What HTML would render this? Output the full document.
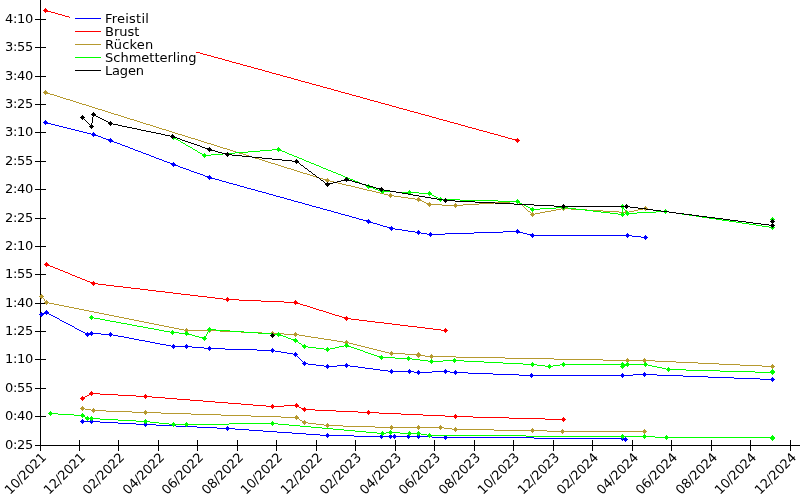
<!DOCTYPE html>
<html lang="de"><head><meta charset="utf-8"><title>Schwimmzeiten</title>
<style>
html,body{margin:0;padding:0;background:#fff;}
body{width:800px;height:500px;overflow:hidden;}
svg{display:block;}
.t{letter-spacing:-0.28px;}
text{font-family:"DejaVu Sans","Liberation Sans",sans-serif;font-size:13px;fill:#000;}
</style></head><body>
<svg width="800" height="500" viewBox="0 0 800 500" shape-rendering="crispEdges">
<rect width="800" height="500" fill="#fff"/>
<path fill="#000" d="M40 0h1v451h-1zM35 445h765v1h-765zM35 19h11v1h-11zM35 47h11v1h-11zM35 76h11v1h-11zM35 104h11v1h-11zM35 132h11v1h-11zM35 161h11v1h-11zM35 189h11v1h-11zM35 218h11v1h-11zM35 246h11v1h-11zM35 274h11v1h-11zM35 303h11v1h-11zM35 331h11v1h-11zM35 359h11v1h-11zM35 388h11v1h-11zM35 416h11v1h-11zM35 445h11v1h-11zM40 440h1v11h-1zM79 440h1v11h-1zM118 440h1v11h-1zM158 440h1v11h-1zM197 440h1v11h-1zM237 440h1v11h-1zM276 440h1v11h-1zM316 440h1v11h-1zM355 440h1v11h-1zM395 440h1v11h-1zM434 440h1v11h-1zM474 440h1v11h-1zM513 440h1v11h-1zM553 440h1v11h-1zM592 440h1v11h-1zM632 440h1v11h-1zM671 440h1v11h-1zM711 440h1v11h-1zM750 440h1v11h-1zM790 440h1v11h-1z"/>
<path fill="#0000ff" d="M82 419h1v1h-1zM91 419h1v1h-1zM81 420h3v1h-3zM90 420h3v1h-3zM80 421h20v1h-20zM81 422h3v1h-3zM90 422h3v1h-3zM100 422h18v1h-18zM145 422h1v1h-1zM82 423h1v1h-1zM91 423h1v1h-1zM118 423h18v1h-18zM144 423h3v1h-3zM136 424h20v1h-20zM144 425h3v1h-3zM156 425h20v1h-20zM145 426h1v1h-1zM176 426h21v1h-21zM227 426h1v1h-1zM197 427h20v1h-20zM226 427h3v1h-3zM217 428h18v1h-18zM226 429h3v1h-3zM235 429h14v1h-14zM227 430h1v1h-1zM249 430h14v1h-14zM263 431h14v1h-14zM277 432h15v1h-15zM292 433h14v1h-14zM327 433h1v1h-1zM306 434h14v1h-14zM326 434h3v1h-3zM381 434h1v1h-1zM390 434h1v1h-1zM394 434h1v1h-1zM408 434h1v1h-1zM418 434h1v1h-1zM320 435h34v1h-34zM380 435h3v1h-3zM389 435h3v1h-3zM393 435h3v1h-3zM407 435h3v1h-3zM417 435h3v1h-3zM445 435h1v1h-1zM326 436h3v1h-3zM354 436h78v1h-78zM444 436h3v1h-3zM622 436h1v1h-1zM327 437h1v1h-1zM380 437h3v1h-3zM389 437h3v1h-3zM393 437h3v1h-3zM407 437h3v1h-3zM417 437h3v1h-3zM432 437h102v1h-102zM621 437h3v1h-3zM625 437h1v1h-1zM381 438h1v1h-1zM390 438h1v1h-1zM394 438h1v1h-1zM408 438h1v1h-1zM418 438h1v1h-1zM444 438h3v1h-3zM534 438h93v1h-93zM445 439h1v1h-1zM621 439h7v1h-7zM622 440h1v1h-1zM624 440h3v1h-3zM625 441h1v1h-1z"/>
<path fill="#0000ff" d="M46 310h1v1h-1zM45 311h3v1h-3zM41 312h1v1h-1zM44 312h5v1h-5zM40 313h9v1h-9zM39 314h5v1h-5zM46 314h1v1h-1zM49 314h2v1h-2zM40 315h3v1h-3zM51 315h2v1h-2zM41 316h1v1h-1zM53 316h2v1h-2zM55 317h2v1h-2zM57 318h2v1h-2zM59 319h1v1h-1zM60 320h2v1h-2zM62 321h2v1h-2zM64 322h2v1h-2zM66 323h2v1h-2zM68 324h2v1h-2zM70 325h2v1h-2zM72 326h2v1h-2zM74 327h1v1h-1zM75 328h2v1h-2zM77 329h2v1h-2zM79 330h2v1h-2zM81 331h2v1h-2zM91 331h1v1h-1zM83 332h2v1h-2zM87 332h1v1h-1zM90 332h3v1h-3zM110 332h1v1h-1zM85 333h16v1h-16zM109 333h3v1h-3zM85 334h8v1h-8zM101 334h12v1h-12zM86 335h3v1h-3zM91 335h1v1h-1zM109 335h3v1h-3zM113 335h5v1h-5zM87 336h1v1h-1zM110 336h1v1h-1zM118 336h6v1h-6zM124 337h5v1h-5zM129 338h5v1h-5zM134 339h5v1h-5zM139 340h6v1h-6zM145 341h5v1h-5zM150 342h5v1h-5zM155 343h5v1h-5zM160 344h6v1h-6zM173 344h1v1h-1zM186 344h1v1h-1zM166 345h5v1h-5zM172 345h3v1h-3zM185 345h3v1h-3zM171 346h21v1h-21zM209 346h1v1h-1zM172 347h3v1h-3zM185 347h3v1h-3zM192 347h12v1h-12zM208 347h3v1h-3zM173 348h1v1h-1zM186 348h1v1h-1zM204 348h21v1h-21zM272 348h1v1h-1zM208 349h3v1h-3zM225 349h32v1h-32zM271 349h3v1h-3zM209 350h1v1h-1zM257 350h18v1h-18zM271 351h3v1h-3zM275 351h6v1h-6zM272 352h1v1h-1zM281 352h6v1h-6zM295 352h1v1h-1zM287 353h6v1h-6zM294 353h3v1h-3zM293 354h5v1h-5zM294 355h3v1h-3zM295 356h1v1h-1zM297 356h1v1h-1zM298 357h1v1h-1zM299 358h1v1h-1zM300 359h1v1h-1zM301 360h1v1h-1zM302 361h1v1h-1zM304 361h1v1h-1zM303 362h3v1h-3zM302 363h6v1h-6zM346 363h1v1h-1zM303 364h3v1h-3zM308 364h8v1h-8zM327 364h1v1h-1zM345 364h3v1h-3zM304 365h1v1h-1zM316 365h8v1h-8zM326 365h3v1h-3zM337 365h13v1h-13zM324 366h13v1h-13zM345 366h3v1h-3zM350 366h8v1h-8zM326 367h3v1h-3zM346 367h1v1h-1zM358 367h7v1h-7zM327 368h1v1h-1zM365 368h8v1h-8zM373 369h7v1h-7zM391 369h1v1h-1zM409 369h1v1h-1zM445 369h1v1h-1zM380 370h8v1h-8zM390 370h3v1h-3zM408 370h3v1h-3zM418 370h1v1h-1zM444 370h3v1h-3zM455 370h1v1h-1zM388 371h26v1h-26zM417 371h3v1h-3zM432 371h18v1h-18zM454 371h3v1h-3zM390 372h3v1h-3zM408 372h3v1h-3zM414 372h18v1h-18zM444 372h3v1h-3zM450 372h18v1h-18zM644 372h1v1h-1zM391 373h1v1h-1zM409 373h1v1h-1zM417 373h3v1h-3zM445 373h1v1h-1zM454 373h3v1h-3zM468 373h25v1h-25zM531 373h1v1h-1zM622 373h1v1h-1zM643 373h3v1h-3zM418 374h1v1h-1zM455 374h1v1h-1zM493 374h26v1h-26zM530 374h3v1h-3zM621 374h3v1h-3zM633 374h24v1h-24zM519 375h114v1h-114zM643 375h3v1h-3zM657 375h26v1h-26zM530 376h3v1h-3zM621 376h3v1h-3zM644 376h1v1h-1zM683 376h25v1h-25zM531 377h1v1h-1zM622 377h1v1h-1zM708 377h26v1h-26zM772 377h1v1h-1zM734 378h26v1h-26zM771 378h3v1h-3zM760 379h15v1h-15zM771 380h3v1h-3zM772 381h1v1h-1z"/>
<path fill="#0000ff" d="M45 120h1v1h-1zM44 121h3v1h-3zM43 122h5v1h-5zM44 123h7v1h-7zM45 124h1v1h-1zM51 124h4v1h-4zM55 125h4v1h-4zM59 126h4v1h-4zM63 127h4v1h-4zM67 128h4v1h-4zM71 129h4v1h-4zM75 130h4v1h-4zM79 131h4v1h-4zM83 132h4v1h-4zM93 132h1v1h-1zM87 133h4v1h-4zM92 133h3v1h-3zM91 134h5v1h-5zM92 135h6v1h-6zM93 136h1v1h-1zM98 136h3v1h-3zM101 137h2v1h-2zM103 138h3v1h-3zM110 138h1v1h-1zM106 139h6v1h-6zM108 140h5v1h-5zM109 141h5v1h-5zM110 142h1v1h-1zM114 142h3v1h-3zM117 143h3v1h-3zM120 144h2v1h-2zM122 145h3v1h-3zM125 146h3v1h-3zM128 147h2v1h-2zM130 148h3v1h-3zM133 149h2v1h-2zM135 150h3v1h-3zM138 151h3v1h-3zM141 152h2v1h-2zM143 153h3v1h-3zM146 154h3v1h-3zM149 155h2v1h-2zM151 156h3v1h-3zM154 157h2v1h-2zM156 158h3v1h-3zM159 159h3v1h-3zM162 160h2v1h-2zM164 161h3v1h-3zM167 162h3v1h-3zM173 162h1v1h-1zM170 163h5v1h-5zM171 164h5v1h-5zM172 165h6v1h-6zM173 166h1v1h-1zM178 166h2v1h-2zM180 167h3v1h-3zM183 168h3v1h-3zM186 169h3v1h-3zM189 170h2v1h-2zM191 171h3v1h-3zM194 172h3v1h-3zM197 173h3v1h-3zM200 174h3v1h-3zM203 175h2v1h-2zM209 175h1v1h-1zM205 176h6v1h-6zM207 177h5v1h-5zM208 178h7v1h-7zM209 179h1v1h-1zM215 179h4v1h-4zM219 180h3v1h-3zM222 181h4v1h-4zM226 182h3v1h-3zM229 183h4v1h-4zM233 184h4v1h-4zM237 185h3v1h-3zM240 186h4v1h-4zM244 187h3v1h-3zM247 188h4v1h-4zM251 189h4v1h-4zM255 190h3v1h-3zM258 191h4v1h-4zM262 192h4v1h-4zM266 193h3v1h-3zM269 194h4v1h-4zM273 195h3v1h-3zM276 196h4v1h-4zM280 197h4v1h-4zM284 198h3v1h-3zM287 199h4v1h-4zM291 200h3v1h-3zM294 201h4v1h-4zM298 202h4v1h-4zM302 203h3v1h-3zM305 204h4v1h-4zM309 205h3v1h-3zM312 206h4v1h-4zM316 207h4v1h-4zM320 208h3v1h-3zM323 209h4v1h-4zM327 210h4v1h-4zM331 211h3v1h-3zM334 212h4v1h-4zM338 213h3v1h-3zM341 214h4v1h-4zM345 215h4v1h-4zM349 216h3v1h-3zM352 217h4v1h-4zM356 218h3v1h-3zM359 219h4v1h-4zM368 219h1v1h-1zM363 220h7v1h-7zM366 221h5v1h-5zM367 222h6v1h-6zM368 223h1v1h-1zM373 223h4v1h-4zM377 224h3v1h-3zM380 225h3v1h-3zM383 226h4v1h-4zM391 226h1v1h-1zM387 227h6v1h-6zM389 228h6v1h-6zM390 229h3v1h-3zM395 229h7v1h-7zM517 229h1v1h-1zM391 230h1v1h-1zM402 230h6v1h-6zM418 230h1v1h-1zM516 230h3v1h-3zM408 231h7v1h-7zM417 231h3v1h-3zM503 231h17v1h-17zM415 232h6v1h-6zM430 232h1v1h-1zM474 232h29v1h-29zM516 232h7v1h-7zM417 233h3v1h-3zM421 233h6v1h-6zM429 233h3v1h-3zM445 233h29v1h-29zM517 233h1v1h-1zM523 233h4v1h-4zM532 233h1v1h-1zM627 233h1v1h-1zM418 234h1v1h-1zM427 234h18v1h-18zM527 234h7v1h-7zM626 234h3v1h-3zM429 235h3v1h-3zM530 235h102v1h-102zM645 235h1v1h-1zM430 236h1v1h-1zM531 236h3v1h-3zM626 236h3v1h-3zM632 236h9v1h-9zM644 236h3v1h-3zM532 237h1v1h-1zM627 237h1v1h-1zM641 237h7v1h-7zM644 238h3v1h-3zM645 239h1v1h-1z"/>
<path fill="#ff0000" d="M91 391h1v1h-1zM90 392h3v1h-3zM89 393h11v1h-11zM89 394h4v1h-4zM100 394h18v1h-18zM145 394h1v1h-1zM87 395h2v1h-2zM91 395h1v1h-1zM118 395h18v1h-18zM144 395h3v1h-3zM82 396h1v1h-1zM85 396h2v1h-2zM136 396h16v1h-16zM81 397h4v1h-4zM144 397h3v1h-3zM152 397h13v1h-13zM80 398h5v1h-5zM145 398h1v1h-1zM165 398h12v1h-12zM81 399h3v1h-3zM177 399h13v1h-13zM82 400h1v1h-1zM190 400h13v1h-13zM203 401h12v1h-12zM215 402h13v1h-13zM228 403h13v1h-13zM296 403h1v1h-1zM241 404h12v1h-12zM272 404h1v1h-1zM295 404h3v1h-3zM253 405h13v1h-13zM271 405h3v1h-3zM284 405h15v1h-15zM266 406h18v1h-18zM295 406h4v1h-4zM271 407h3v1h-3zM296 407h1v1h-1zM299 407h2v1h-2zM304 407h1v1h-1zM272 408h1v1h-1zM301 408h5v1h-5zM302 409h13v1h-13zM303 410h3v1h-3zM315 410h21v1h-21zM368 410h1v1h-1zM304 411h1v1h-1zM336 411h22v1h-22zM367 411h3v1h-3zM358 412h21v1h-21zM367 413h3v1h-3zM379 413h22v1h-22zM368 414h1v1h-1zM401 414h22v1h-22zM455 414h1v1h-1zM423 415h22v1h-22zM454 415h3v1h-3zM445 416h28v1h-28zM454 417h3v1h-3zM473 417h36v1h-36zM563 417h1v1h-1zM455 418h1v1h-1zM509 418h36v1h-36zM562 418h3v1h-3zM545 419h21v1h-21zM562 420h3v1h-3zM563 421h1v1h-1z"/>
<path fill="#ff0000" d="M46 262h1v1h-1zM45 263h3v1h-3zM44 264h5v1h-5zM45 265h5v1h-5zM46 266h1v1h-1zM50 266h3v1h-3zM53 267h2v1h-2zM55 268h3v1h-3zM58 269h2v1h-2zM60 270h3v1h-3zM63 271h2v1h-2zM65 272h3v1h-3zM68 273h2v1h-2zM70 274h2v1h-2zM72 275h3v1h-3zM75 276h2v1h-2zM77 277h3v1h-3zM80 278h2v1h-2zM82 279h3v1h-3zM85 280h2v1h-2zM87 281h3v1h-3zM93 281h1v1h-1zM90 282h5v1h-5zM91 283h7v1h-7zM92 284h3v1h-3zM98 284h8v1h-8zM93 285h1v1h-1zM106 285h8v1h-8zM114 286h9v1h-9zM123 287h8v1h-8zM131 288h9v1h-9zM140 289h8v1h-8zM148 290h8v1h-8zM156 291h9v1h-9zM165 292h8v1h-8zM173 293h8v1h-8zM181 294h9v1h-9zM190 295h8v1h-8zM198 296h9v1h-9zM207 297h8v1h-8zM227 297h1v1h-1zM215 298h8v1h-8zM226 298h3v1h-3zM223 299h16v1h-16zM226 300h3v1h-3zM239 300h22v1h-22zM295 300h1v1h-1zM227 301h1v1h-1zM261 301h23v1h-23zM294 301h3v1h-3zM284 302h14v1h-14zM294 303h6v1h-6zM295 304h1v1h-1zM300 304h3v1h-3zM303 305h4v1h-4zM307 306h3v1h-3zM310 307h3v1h-3zM313 308h3v1h-3zM316 309h3v1h-3zM319 310h4v1h-4zM323 311h3v1h-3zM326 312h3v1h-3zM329 313h3v1h-3zM332 314h3v1h-3zM335 315h4v1h-4zM339 316h3v1h-3zM346 316h1v1h-1zM342 317h6v1h-6zM344 318h7v1h-7zM345 319h3v1h-3zM351 319h8v1h-8zM346 320h1v1h-1zM359 320h8v1h-8zM367 321h8v1h-8zM375 322h9v1h-9zM384 323h8v1h-8zM392 324h8v1h-8zM400 325h8v1h-8zM408 326h9v1h-9zM417 327h8v1h-8zM425 328h8v1h-8zM445 328h1v1h-1zM433 329h8v1h-8zM444 329h3v1h-3zM441 330h7v1h-7zM444 331h3v1h-3zM445 332h1v1h-1z"/>
<path fill="#ff0000" d="M45 8h1v1h-1zM44 9h3v1h-3zM43 10h5v1h-5zM44 11h7v1h-7zM45 12h1v1h-1zM51 12h4v1h-4zM55 13h3v1h-3zM58 14h4v1h-4zM62 15h3v1h-3zM65 16h4v1h-4zM69 17h4v1h-4zM73 18h3v1h-3zM76 19h4v1h-4zM80 20h4v1h-4zM84 21h3v1h-3zM87 22h4v1h-4zM91 23h4v1h-4zM95 24h3v1h-3zM98 25h4v1h-4zM102 26h3v1h-3zM105 27h4v1h-4zM109 28h4v1h-4zM113 29h3v1h-3zM116 30h4v1h-4zM120 31h4v1h-4zM124 32h3v1h-3zM127 33h4v1h-4zM131 34h3v1h-3zM134 35h4v1h-4zM138 36h4v1h-4zM142 37h3v1h-3zM145 38h4v1h-4zM149 39h4v1h-4zM153 40h3v1h-3zM156 41h4v1h-4zM160 42h3v1h-3zM163 43h4v1h-4zM167 44h4v1h-4zM171 45h3v1h-3zM174 46h4v1h-4zM178 47h4v1h-4zM182 48h3v1h-3zM185 49h4v1h-4zM189 50h4v1h-4zM193 51h3v1h-3zM196 52h4v1h-4zM200 53h3v1h-3zM203 54h4v1h-4zM207 55h4v1h-4zM211 56h3v1h-3zM214 57h4v1h-4zM218 58h4v1h-4zM222 59h3v1h-3zM225 60h4v1h-4zM229 61h3v1h-3zM232 62h4v1h-4zM236 63h4v1h-4zM240 64h3v1h-3zM243 65h4v1h-4zM247 66h4v1h-4zM251 67h3v1h-3zM254 68h4v1h-4zM258 69h4v1h-4zM262 70h3v1h-3zM265 71h4v1h-4zM269 72h3v1h-3zM272 73h4v1h-4zM276 74h4v1h-4zM280 75h3v1h-3zM283 76h4v1h-4zM287 77h4v1h-4zM291 78h3v1h-3zM294 79h4v1h-4zM298 80h3v1h-3zM301 81h4v1h-4zM305 82h4v1h-4zM309 83h3v1h-3zM312 84h4v1h-4zM316 85h4v1h-4zM320 86h3v1h-3zM323 87h4v1h-4zM327 88h4v1h-4zM331 89h3v1h-3zM334 90h4v1h-4zM338 91h3v1h-3zM341 92h4v1h-4zM345 93h4v1h-4zM349 94h3v1h-3zM352 95h4v1h-4zM356 96h4v1h-4zM360 97h3v1h-3zM363 98h4v1h-4zM367 99h3v1h-3zM370 100h4v1h-4zM374 101h4v1h-4zM378 102h3v1h-3zM381 103h4v1h-4zM385 104h4v1h-4zM389 105h3v1h-3zM392 106h4v1h-4zM396 107h3v1h-3zM399 108h4v1h-4zM403 109h4v1h-4zM407 110h3v1h-3zM410 111h4v1h-4zM414 112h4v1h-4zM418 113h3v1h-3zM421 114h4v1h-4zM425 115h4v1h-4zM429 116h3v1h-3zM432 117h4v1h-4zM436 118h3v1h-3zM439 119h4v1h-4zM443 120h4v1h-4zM447 121h3v1h-3zM450 122h4v1h-4zM454 123h4v1h-4zM458 124h3v1h-3zM461 125h4v1h-4zM465 126h3v1h-3zM468 127h4v1h-4zM472 128h4v1h-4zM476 129h3v1h-3zM479 130h4v1h-4zM483 131h4v1h-4zM487 132h3v1h-3zM490 133h4v1h-4zM494 134h4v1h-4zM498 135h3v1h-3zM501 136h4v1h-4zM505 137h3v1h-3zM508 138h4v1h-4zM517 138h1v1h-1zM512 139h7v1h-7zM515 140h5v1h-5zM516 141h3v1h-3zM517 142h1v1h-1z"/>
<path fill="#b6992f" d="M82 406h1v1h-1zM81 407h3v1h-3zM80 408h5v1h-5zM93 408h1v1h-1zM81 409h3v1h-3zM85 409h6v1h-6zM92 409h3v1h-3zM82 410h1v1h-1zM91 410h15v1h-15zM145 410h1v1h-1zM92 411h3v1h-3zM106 411h26v1h-26zM144 411h3v1h-3zM93 412h1v1h-1zM132 412h29v1h-29zM144 413h3v1h-3zM161 413h30v1h-30zM145 414h1v1h-1zM191 414h30v1h-30zM221 415h30v1h-30zM296 415h1v1h-1zM251 416h30v1h-30zM295 416h3v1h-3zM281 417h18v1h-18zM295 418h4v1h-4zM296 419h1v1h-1zM299 419h1v1h-1zM300 420h2v1h-2zM304 420h1v1h-1zM302 421h4v1h-4zM302 422h6v1h-6zM303 423h3v1h-3zM308 423h8v1h-8zM327 423h1v1h-1zM304 424h1v1h-1zM316 424h8v1h-8zM326 424h3v1h-3zM324 425h19v1h-19zM391 425h1v1h-1zM418 425h1v1h-1zM440 425h1v1h-1zM326 426h3v1h-3zM343 426h32v1h-32zM390 426h3v1h-3zM417 426h3v1h-3zM439 426h3v1h-3zM327 427h1v1h-1zM375 427h69v1h-69zM455 427h1v1h-1zM390 428h3v1h-3zM417 428h3v1h-3zM439 428h3v1h-3zM444 428h8v1h-8zM454 428h3v1h-3zM532 428h1v1h-1zM391 429h1v1h-1zM418 429h1v1h-1zM440 429h1v1h-1zM452 429h42v1h-42zM531 429h3v1h-3zM562 429h1v1h-1zM644 429h1v1h-1zM454 430h3v1h-3zM494 430h53v1h-53zM561 430h3v1h-3zM643 430h3v1h-3zM455 431h1v1h-1zM531 431h3v1h-3zM547 431h100v1h-100zM532 432h1v1h-1zM561 432h3v1h-3zM643 432h3v1h-3zM562 433h1v1h-1zM644 433h1v1h-1z"/>
<path fill="#b6992f" d="M41 294h1v1h-1zM40 295h3v1h-3zM39 296h5v1h-5zM40 297h3v1h-3zM41 298h1v1h-1zM43 298h1v1h-1zM44 299h1v1h-1zM44 300h1v1h-1zM46 300h1v1h-1zM45 301h3v1h-3zM44 302h5v1h-5zM45 303h3v1h-3zM49 303h5v1h-5zM46 304h1v1h-1zM54 304h5v1h-5zM59 305h5v1h-5zM64 306h5v1h-5zM69 307h5v1h-5zM74 308h5v1h-5zM79 309h5v1h-5zM84 310h5v1h-5zM89 311h5v1h-5zM94 312h5v1h-5zM99 313h5v1h-5zM104 314h5v1h-5zM109 315h5v1h-5zM114 316h5v1h-5zM119 317h5v1h-5zM124 318h5v1h-5zM129 319h5v1h-5zM134 320h5v1h-5zM139 321h5v1h-5zM144 322h5v1h-5zM149 323h5v1h-5zM154 324h5v1h-5zM159 325h5v1h-5zM164 326h5v1h-5zM169 327h5v1h-5zM174 328h5v1h-5zM186 328h1v1h-1zM209 328h1v1h-1zM179 329h5v1h-5zM185 329h3v1h-3zM208 329h3v1h-3zM184 330h36v1h-36zM185 331h3v1h-3zM208 331h3v1h-3zM220 331h21v1h-21zM272 331h1v1h-1zM186 332h1v1h-1zM209 332h1v1h-1zM241 332h21v1h-21zM271 332h3v1h-3zM295 332h1v1h-1zM262 333h22v1h-22zM294 333h3v1h-3zM271 334h3v1h-3zM284 334h15v1h-15zM272 335h1v1h-1zM294 335h3v1h-3zM299 335h6v1h-6zM295 336h1v1h-1zM305 336h6v1h-6zM311 337h7v1h-7zM318 338h6v1h-6zM324 339h7v1h-7zM331 340h6v1h-6zM346 340h1v1h-1zM337 341h6v1h-6zM345 341h3v1h-3zM343 342h6v1h-6zM345 343h3v1h-3zM349 343h4v1h-4zM346 344h1v1h-1zM353 344h4v1h-4zM357 345h4v1h-4zM361 346h4v1h-4zM365 347h4v1h-4zM369 348h4v1h-4zM373 349h4v1h-4zM377 350h4v1h-4zM381 351h4v1h-4zM391 351h1v1h-1zM385 352h4v1h-4zM390 352h3v1h-3zM418 352h1v1h-1zM389 353h16v1h-16zM417 353h3v1h-3zM390 354h3v1h-3zM405 354h16v1h-16zM431 354h1v1h-1zM391 355h1v1h-1zM416 355h9v1h-9zM430 355h3v1h-3zM417 356h3v1h-3zM425 356h31v1h-31zM418 357h1v1h-1zM430 357h3v1h-3zM456 357h49v1h-49zM431 358h1v1h-1zM505 358h49v1h-49zM627 358h1v1h-1zM644 358h1v1h-1zM554 359h49v1h-49zM626 359h3v1h-3zM643 359h3v1h-3zM603 360h52v1h-52zM626 361h3v1h-3zM643 361h3v1h-3zM655 361h21v1h-21zM627 362h1v1h-1zM644 362h1v1h-1zM676 362h22v1h-22zM698 363h21v1h-21zM719 364h21v1h-21zM772 364h1v1h-1zM740 365h22v1h-22zM771 365h3v1h-3zM762 366h13v1h-13zM771 367h3v1h-3zM772 368h1v1h-1z"/>
<path fill="#b6992f" d="M45 90h1v1h-1zM44 91h3v1h-3zM43 92h5v1h-5zM44 93h6v1h-6zM45 94h1v1h-1zM50 94h4v1h-4zM54 95h3v1h-3zM57 96h3v1h-3zM60 97h3v1h-3zM63 98h3v1h-3zM66 99h4v1h-4zM70 100h3v1h-3zM73 101h3v1h-3zM76 102h3v1h-3zM79 103h3v1h-3zM82 104h4v1h-4zM86 105h3v1h-3zM89 106h3v1h-3zM92 107h3v1h-3zM95 108h3v1h-3zM98 109h4v1h-4zM102 110h3v1h-3zM105 111h3v1h-3zM108 112h3v1h-3zM111 113h3v1h-3zM114 114h4v1h-4zM118 115h3v1h-3zM121 116h3v1h-3zM124 117h3v1h-3zM127 118h3v1h-3zM130 119h4v1h-4zM134 120h3v1h-3zM137 121h3v1h-3zM140 122h3v1h-3zM143 123h3v1h-3zM146 124h4v1h-4zM150 125h3v1h-3zM153 126h3v1h-3zM156 127h3v1h-3zM159 128h3v1h-3zM162 129h4v1h-4zM166 130h3v1h-3zM169 131h3v1h-3zM172 132h3v1h-3zM175 133h3v1h-3zM178 134h4v1h-4zM182 135h3v1h-3zM185 136h3v1h-3zM188 137h3v1h-3zM191 138h4v1h-4zM195 139h3v1h-3zM198 140h3v1h-3zM201 141h3v1h-3zM204 142h3v1h-3zM207 143h4v1h-4zM211 144h3v1h-3zM214 145h3v1h-3zM217 146h3v1h-3zM220 147h3v1h-3zM223 148h4v1h-4zM227 149h3v1h-3zM230 150h3v1h-3zM233 151h3v1h-3zM236 152h3v1h-3zM239 153h4v1h-4zM243 154h3v1h-3zM246 155h3v1h-3zM249 156h3v1h-3zM252 157h3v1h-3zM255 158h4v1h-4zM259 159h3v1h-3zM262 160h3v1h-3zM265 161h3v1h-3zM268 162h3v1h-3zM271 163h4v1h-4zM275 164h3v1h-3zM278 165h3v1h-3zM281 166h3v1h-3zM284 167h3v1h-3zM287 168h4v1h-4zM291 169h3v1h-3zM294 170h3v1h-3zM297 171h3v1h-3zM300 172h3v1h-3zM303 173h4v1h-4zM307 174h3v1h-3zM310 175h3v1h-3zM313 176h3v1h-3zM316 177h3v1h-3zM319 178h4v1h-4zM327 178h1v1h-1zM323 179h6v1h-6zM325 180h5v1h-5zM326 181h3v1h-3zM330 181h4v1h-4zM327 182h1v1h-1zM334 182h4v1h-4zM338 183h4v1h-4zM342 184h4v1h-4zM346 185h5v1h-5zM351 186h4v1h-4zM355 187h4v1h-4zM359 188h4v1h-4zM363 189h4v1h-4zM367 190h5v1h-5zM372 191h4v1h-4zM376 192h4v1h-4zM380 193h4v1h-4zM390 193h1v1h-1zM384 194h4v1h-4zM389 194h3v1h-3zM388 195h6v1h-6zM389 196h3v1h-3zM394 196h7v1h-7zM390 197h1v1h-1zM401 197h7v1h-7zM418 197h1v1h-1zM408 198h7v1h-7zM417 198h3v1h-3zM415 199h6v1h-6zM517 199h1v1h-1zM417 200h5v1h-5zM516 200h3v1h-3zM418 201h1v1h-1zM422 201h2v1h-2zM510 201h10v1h-10zM424 202h2v1h-2zM429 202h1v1h-1zM494 202h16v1h-16zM516 202h3v1h-3zM426 203h5v1h-5zM455 203h1v1h-1zM479 203h15v1h-15zM517 203h1v1h-1zM519 203h1v1h-1zM427 204h15v1h-15zM454 204h3v1h-3zM463 204h16v1h-16zM520 204h2v1h-2zM428 205h3v1h-3zM442 205h21v1h-21zM522 205h1v1h-1zM429 206h1v1h-1zM454 206h3v1h-3zM523 206h1v1h-1zM563 206h1v1h-1zM645 206h1v1h-1zM455 207h1v1h-1zM524 207h1v1h-1zM562 207h3v1h-3zM644 207h3v1h-3zM525 208h1v1h-1zM561 208h10v1h-10zM643 208h5v1h-5zM526 209h1v1h-1zM556 209h5v1h-5zM562 209h3v1h-3zM571 209h16v1h-16zM638 209h5v1h-5zM644 209h3v1h-3zM527 210h1v1h-1zM551 210h5v1h-5zM563 210h1v1h-1zM587 210h16v1h-16zM626 210h1v1h-1zM634 210h4v1h-4zM645 210h1v1h-1zM528 211h2v1h-2zM545 211h6v1h-6zM603 211h16v1h-16zM625 211h3v1h-3zM629 211h5v1h-5zM530 212h1v1h-1zM532 212h1v1h-1zM540 212h5v1h-5zM619 212h10v1h-10zM531 213h3v1h-3zM535 213h5v1h-5zM625 213h3v1h-3zM530 214h5v1h-5zM626 214h1v1h-1zM531 215h3v1h-3zM532 216h1v1h-1z"/>
<path fill="#00ff00" d="M50 411h1v1h-1zM49 412h3v1h-3zM48 413h10v1h-10zM82 413h1v1h-1zM49 414h3v1h-3zM58 414h16v1h-16zM81 414h3v1h-3zM50 415h1v1h-1zM74 415h11v1h-11zM81 416h4v1h-4zM87 416h1v1h-1zM91 416h1v1h-1zM82 417h1v1h-1zM85 417h4v1h-4zM90 417h3v1h-3zM85 418h15v1h-15zM86 419h3v1h-3zM90 419h3v1h-3zM100 419h18v1h-18zM145 419h1v1h-1zM87 420h1v1h-1zM91 420h1v1h-1zM118 420h18v1h-18zM144 420h3v1h-3zM136 421h14v1h-14zM272 421h1v1h-1zM144 422h3v1h-3zM150 422h9v1h-9zM173 422h1v1h-1zM186 422h1v1h-1zM271 422h3v1h-3zM145 423h1v1h-1zM159 423h10v1h-10zM172 423h3v1h-3zM185 423h3v1h-3zM229 423h49v1h-49zM169 424h60v1h-60zM271 424h3v1h-3zM278 424h11v1h-11zM172 425h3v1h-3zM185 425h3v1h-3zM272 425h1v1h-1zM289 425h11v1h-11zM173 426h1v1h-1zM186 426h1v1h-1zM300 426h11v1h-11zM311 427h11v1h-11zM322 428h11v1h-11zM333 429h11v1h-11zM344 430h11v1h-11zM390 430h1v1h-1zM355 431h11v1h-11zM382 431h1v1h-1zM389 431h3v1h-3zM409 431h1v1h-1zM418 431h1v1h-1zM366 432h11v1h-11zM381 432h3v1h-3zM386 432h14v1h-14zM408 432h3v1h-3zM417 432h3v1h-3zM377 433h9v1h-9zM389 433h3v1h-3zM400 433h21v1h-21zM429 433h1v1h-1zM381 434h3v1h-3zM390 434h1v1h-1zM408 434h3v1h-3zM417 434h3v1h-3zM421 434h6v1h-6zM428 434h3v1h-3zM622 434h1v1h-1zM644 434h1v1h-1zM382 435h1v1h-1zM409 435h1v1h-1zM418 435h1v1h-1zM427 435h99v1h-99zM621 435h3v1h-3zM643 435h3v1h-3zM666 435h1v1h-1zM772 435h1v1h-1zM428 436h3v1h-3zM526 436h129v1h-129zM665 436h3v1h-3zM771 436h3v1h-3zM429 437h1v1h-1zM621 437h3v1h-3zM643 437h3v1h-3zM655 437h120v1h-120zM622 438h1v1h-1zM644 438h1v1h-1zM665 438h3v1h-3zM770 438h5v1h-5zM666 439h1v1h-1zM771 439h3v1h-3zM772 440h1v1h-1z"/>
<path fill="#00ff00" d="M91 315h1v1h-1zM90 316h3v1h-3zM89 317h5v1h-5zM90 318h3v1h-3zM94 318h6v1h-6zM91 319h1v1h-1zM100 319h5v1h-5zM105 320h5v1h-5zM110 321h6v1h-6zM116 322h5v1h-5zM121 323h6v1h-6zM127 324h5v1h-5zM132 325h5v1h-5zM137 326h6v1h-6zM143 327h5v1h-5zM209 327h1v1h-1zM148 328h6v1h-6zM208 328h3v1h-3zM154 329h5v1h-5zM207 329h9v1h-9zM159 330h5v1h-5zM172 330h1v1h-1zM208 330h3v1h-3zM216 330h14v1h-14zM164 331h6v1h-6zM171 331h3v1h-3zM186 331h1v1h-1zM208 331h2v1h-2zM230 331h14v1h-14zM170 332h9v1h-9zM185 332h3v1h-3zM207 332h1v1h-1zM244 332h14v1h-14zM278 332h1v1h-1zM171 333h3v1h-3zM179 333h10v1h-10zM207 333h1v1h-1zM258 333h14v1h-14zM277 333h3v1h-3zM172 334h1v1h-1zM185 334h7v1h-7zM206 334h1v1h-1zM272 334h9v1h-9zM186 335h1v1h-1zM192 335h3v1h-3zM206 335h1v1h-1zM277 335h6v1h-6zM195 336h4v1h-4zM204 336h2v1h-2zM278 336h1v1h-1zM283 336h3v1h-3zM199 337h7v1h-7zM286 337h2v1h-2zM202 338h5v1h-5zM288 338h3v1h-3zM295 338h1v1h-1zM203 339h3v1h-3zM291 339h6v1h-6zM204 340h1v1h-1zM293 340h5v1h-5zM294 341h4v1h-4zM295 342h1v1h-1zM298 342h1v1h-1zM299 343h2v1h-2zM346 343h1v1h-1zM301 344h1v1h-1zM304 344h1v1h-1zM345 344h3v1h-3zM302 345h4v1h-4zM344 345h5v1h-5zM302 346h6v1h-6zM339 346h5v1h-5zM345 346h6v1h-6zM303 347h3v1h-3zM308 347h8v1h-8zM327 347h1v1h-1zM335 347h4v1h-4zM346 347h1v1h-1zM351 347h3v1h-3zM304 348h1v1h-1zM316 348h8v1h-8zM326 348h3v1h-3zM330 348h5v1h-5zM354 348h3v1h-3zM324 349h6v1h-6zM357 349h3v1h-3zM326 350h3v1h-3zM360 350h3v1h-3zM327 351h1v1h-1zM363 351h2v1h-2zM365 352h3v1h-3zM368 353h3v1h-3zM371 354h3v1h-3zM374 355h3v1h-3zM381 355h1v1h-1zM377 356h6v1h-6zM408 356h1v1h-1zM379 357h16v1h-16zM407 357h3v1h-3zM380 358h3v1h-3zM395 358h17v1h-17zM454 358h1v1h-1zM381 359h1v1h-1zM407 359h3v1h-3zM412 359h8v1h-8zM431 359h1v1h-1zM453 359h3v1h-3zM408 360h1v1h-1zM420 360h8v1h-8zM430 360h3v1h-3zM443 360h21v1h-21zM428 361h15v1h-15zM453 361h3v1h-3zM464 361h20v1h-20zM430 362h3v1h-3zM454 362h1v1h-1zM484 362h19v1h-19zM532 362h1v1h-1zM563 362h1v1h-1zM622 362h1v1h-1zM627 362h1v1h-1zM645 362h1v1h-1zM431 363h1v1h-1zM503 363h20v1h-20zM531 363h3v1h-3zM562 363h3v1h-3zM621 363h3v1h-3zM626 363h3v1h-3zM644 363h3v1h-3zM523 364h14v1h-14zM549 364h1v1h-1zM560 364h88v1h-88zM531 365h3v1h-3zM537 365h8v1h-8zM548 365h3v1h-3zM553 365h7v1h-7zM562 365h3v1h-3zM621 365h8v1h-8zM644 365h3v1h-3zM648 365h4v1h-4zM532 366h1v1h-1zM545 366h8v1h-8zM563 366h1v1h-1zM620 366h5v1h-5zM627 366h1v1h-1zM645 366h1v1h-1zM652 366h5v1h-5zM548 367h3v1h-3zM621 367h3v1h-3zM657 367h5v1h-5zM668 367h1v1h-1zM549 368h1v1h-1zM622 368h1v1h-1zM662 368h4v1h-4zM667 368h3v1h-3zM666 369h20v1h-20zM772 369h1v1h-1zM667 370h3v1h-3zM686 370h34v1h-34zM771 370h3v1h-3zM668 371h1v1h-1zM720 371h35v1h-35zM770 371h5v1h-5zM755 372h20v1h-20zM771 373h3v1h-3zM772 374h1v1h-1z"/>
<path fill="#00ff00" d="M173 135h1v1h-1zM172 136h3v1h-3zM171 137h5v1h-5zM172 138h4v1h-4zM173 139h1v1h-1zM176 139h2v1h-2zM178 140h2v1h-2zM180 141h1v1h-1zM181 142h2v1h-2zM183 143h2v1h-2zM185 144h1v1h-1zM186 145h2v1h-2zM188 146h2v1h-2zM190 147h2v1h-2zM278 147h1v1h-1zM192 148h1v1h-1zM277 148h3v1h-3zM193 149h2v1h-2zM272 149h9v1h-9zM195 150h2v1h-2zM260 150h12v1h-12zM277 150h5v1h-5zM197 151h1v1h-1zM248 151h12v1h-12zM278 151h1v1h-1zM282 151h3v1h-3zM198 152h2v1h-2zM235 152h13v1h-13zM285 152h2v1h-2zM200 153h2v1h-2zM204 153h1v1h-1zM223 153h12v1h-12zM287 153h2v1h-2zM202 154h4v1h-4zM211 154h12v1h-12zM289 154h3v1h-3zM202 155h9v1h-9zM292 155h2v1h-2zM203 156h3v1h-3zM294 156h3v1h-3zM204 157h1v1h-1zM297 157h2v1h-2zM299 158h3v1h-3zM302 159h2v1h-2zM304 160h2v1h-2zM306 161h3v1h-3zM309 162h2v1h-2zM311 163h3v1h-3zM314 164h2v1h-2zM316 165h3v1h-3zM319 166h2v1h-2zM321 167h2v1h-2zM323 168h3v1h-3zM326 169h2v1h-2zM328 170h3v1h-3zM331 171h2v1h-2zM333 172h3v1h-3zM336 173h2v1h-2zM338 174h3v1h-3zM341 175h2v1h-2zM343 176h2v1h-2zM345 177h3v1h-3zM348 178h2v1h-2zM350 179h3v1h-3zM353 180h2v1h-2zM355 181h3v1h-3zM358 182h2v1h-2zM360 183h2v1h-2zM362 184h3v1h-3zM368 184h1v1h-1zM365 185h5v1h-5zM366 186h5v1h-5zM367 187h6v1h-6zM368 188h1v1h-1zM373 188h2v1h-2zM375 189h3v1h-3zM382 189h1v1h-1zM378 190h6v1h-6zM409 190h1v1h-1zM380 191h16v1h-16zM408 191h3v1h-3zM429 191h1v1h-1zM381 192h3v1h-3zM396 192h23v1h-23zM428 192h3v1h-3zM382 193h1v1h-1zM408 193h3v1h-3zM419 193h13v1h-13zM409 194h1v1h-1zM428 194h4v1h-4zM429 195h1v1h-1zM432 195h2v1h-2zM434 196h2v1h-2zM436 197h2v1h-2zM440 197h1v1h-1zM438 198h4v1h-4zM438 199h22v1h-22zM517 199h1v1h-1zM439 200h3v1h-3zM460 200h38v1h-38zM516 200h3v1h-3zM440 201h1v1h-1zM498 201h22v1h-22zM516 202h4v1h-4zM517 203h1v1h-1zM520 203h2v1h-2zM522 204h2v1h-2zM622 204h1v1h-1zM524 205h2v1h-2zM563 205h1v1h-1zM621 205h3v1h-3zM526 206h2v1h-2zM562 206h3v1h-3zM620 206h5v1h-5zM528 207h2v1h-2zM532 207h1v1h-1zM556 207h12v1h-12zM621 207h3v1h-3zM530 208h4v1h-4zM540 208h16v1h-16zM562 208h3v1h-3zM568 208h8v1h-8zM622 208h2v1h-2zM530 209h10v1h-10zM563 209h1v1h-1zM576 209h9v1h-9zM622 209h1v1h-1zM624 209h1v1h-1zM665 209h1v1h-1zM531 210h3v1h-3zM585 210h8v1h-8zM622 210h1v1h-1zM625 210h1v1h-1zM664 210h3v1h-3zM532 211h1v1h-1zM593 211h8v1h-8zM622 211h1v1h-1zM626 211h2v1h-2zM656 211h13v1h-13zM601 212h9v1h-9zM622 212h1v1h-1zM626 212h3v1h-3zM637 212h19v1h-19zM664 212h3v1h-3zM669 212h7v1h-7zM610 213h8v1h-8zM621 213h3v1h-3zM625 213h12v1h-12zM665 213h1v1h-1zM676 213h6v1h-6zM618 214h7v1h-7zM626 214h3v1h-3zM682 214h7v1h-7zM621 215h3v1h-3zM627 215h1v1h-1zM689 215h7v1h-7zM622 216h1v1h-1zM696 216h6v1h-6zM702 217h7v1h-7zM772 217h1v1h-1zM709 218h7v1h-7zM771 218h3v1h-3zM716 219h6v1h-6zM770 219h5v1h-5zM722 220h7v1h-7zM771 220h3v1h-3zM729 221h7v1h-7zM772 221h1v1h-1zM736 222h6v1h-6zM772 222h1v1h-1zM742 223h7v1h-7zM772 223h1v1h-1zM749 224h7v1h-7zM772 224h1v1h-1zM756 225h6v1h-6zM772 225h1v1h-1zM762 226h7v1h-7zM771 226h3v1h-3zM769 227h6v1h-6zM771 228h3v1h-3zM772 229h1v1h-1z"/>
<path fill="#000000" d="M272 333h1v1h-1zM271 334h3v1h-3zM270 335h5v1h-5zM271 336h3v1h-3zM272 337h1v1h-1z"/>
<path fill="#000000" d="M93 112h1v1h-1zM92 113h3v1h-3zM91 114h5v1h-5zM82 115h1v1h-1zM92 115h4v1h-4zM81 116h3v1h-3zM93 116h1v1h-1zM96 116h2v1h-2zM80 117h5v1h-5zM92 117h1v1h-1zM98 117h2v1h-2zM81 118h3v1h-3zM92 118h1v1h-1zM100 118h2v1h-2zM82 119h1v1h-1zM84 119h1v1h-1zM92 119h1v1h-1zM102 119h2v1h-2zM85 120h1v1h-1zM92 120h1v1h-1zM104 120h2v1h-2zM86 121h1v1h-1zM92 121h1v1h-1zM106 121h2v1h-2zM110 121h1v1h-1zM87 122h1v1h-1zM92 122h1v1h-1zM108 122h4v1h-4zM88 123h1v1h-1zM91 123h1v1h-1zM108 123h5v1h-5zM89 124h1v1h-1zM91 124h1v1h-1zM109 124h3v1h-3zM113 124h5v1h-5zM90 125h3v1h-3zM110 125h1v1h-1zM118 125h4v1h-4zM89 126h5v1h-5zM122 126h5v1h-5zM90 127h3v1h-3zM127 127h5v1h-5zM91 128h1v1h-1zM132 128h5v1h-5zM137 129h4v1h-4zM141 130h5v1h-5zM146 131h5v1h-5zM151 132h5v1h-5zM156 133h5v1h-5zM161 134h4v1h-4zM172 134h1v1h-1zM165 135h5v1h-5zM171 135h3v1h-3zM170 136h5v1h-5zM171 137h6v1h-6zM172 138h1v1h-1zM177 138h3v1h-3zM180 139h2v1h-2zM182 140h3v1h-3zM185 141h3v1h-3zM188 142h3v1h-3zM191 143h3v1h-3zM194 144h3v1h-3zM197 145h3v1h-3zM200 146h2v1h-2zM202 147h3v1h-3zM209 147h1v1h-1zM205 148h6v1h-6zM207 149h5v1h-5zM208 150h7v1h-7zM209 151h1v1h-1zM215 151h3v1h-3zM218 152h4v1h-4zM227 152h1v1h-1zM222 153h7v1h-7zM225 154h7v1h-7zM226 155h3v1h-3zM232 155h10v1h-10zM227 156h1v1h-1zM242 156h10v1h-10zM252 157h10v1h-10zM262 158h10v1h-10zM272 159h10v1h-10zM296 159h1v1h-1zM282 160h10v1h-10zM295 160h3v1h-3zM292 161h7v1h-7zM295 162h4v1h-4zM296 163h1v1h-1zM299 163h1v1h-1zM300 164h1v1h-1zM301 165h2v1h-2zM303 166h1v1h-1zM304 167h1v1h-1zM305 168h2v1h-2zM307 169h1v1h-1zM308 170h1v1h-1zM309 171h2v1h-2zM311 172h1v1h-1zM312 173h1v1h-1zM313 174h2v1h-2zM315 175h1v1h-1zM316 176h1v1h-1zM317 177h2v1h-2zM346 177h1v1h-1zM319 178h1v1h-1zM345 178h3v1h-3zM320 179h1v1h-1zM344 179h5v1h-5zM321 180h2v1h-2zM341 180h11v1h-11zM323 181h1v1h-1zM337 181h4v1h-4zM346 181h1v1h-1zM352 181h3v1h-3zM324 182h1v1h-1zM327 182h1v1h-1zM333 182h4v1h-4zM355 182h4v1h-4zM325 183h8v1h-8zM359 183h3v1h-3zM325 184h5v1h-5zM362 184h4v1h-4zM326 185h3v1h-3zM366 185h3v1h-3zM327 186h1v1h-1zM369 186h4v1h-4zM373 187h3v1h-3zM381 187h1v1h-1zM376 188h7v1h-7zM379 189h5v1h-5zM380 190h3v1h-3zM384 190h6v1h-6zM381 191h1v1h-1zM390 191h6v1h-6zM396 192h6v1h-6zM402 193h6v1h-6zM408 194h5v1h-5zM413 195h6v1h-6zM419 196h6v1h-6zM425 197h6v1h-6zM431 198h6v1h-6zM445 198h1v1h-1zM437 199h6v1h-6zM444 199h3v1h-3zM443 200h12v1h-12zM444 201h3v1h-3zM455 201h20v1h-20zM445 202h1v1h-1zM475 202h20v1h-20zM495 203h19v1h-19zM514 204h20v1h-20zM563 204h1v1h-1zM626 204h1v1h-1zM534 205h20v1h-20zM562 205h3v1h-3zM625 205h3v1h-3zM554 206h76v1h-76zM562 207h3v1h-3zM625 207h3v1h-3zM630 207h8v1h-8zM563 208h1v1h-1zM626 208h1v1h-1zM638 208h8v1h-8zM646 209h7v1h-7zM653 210h8v1h-8zM661 211h8v1h-8zM669 212h7v1h-7zM676 213h8v1h-8zM684 214h8v1h-8zM692 215h7v1h-7zM699 216h8v1h-8zM707 217h8v1h-8zM715 218h8v1h-8zM723 219h7v1h-7zM772 219h1v1h-1zM730 220h8v1h-8zM771 220h3v1h-3zM738 221h8v1h-8zM770 221h5v1h-5zM746 222h7v1h-7zM771 222h3v1h-3zM753 223h8v1h-8zM772 223h1v1h-1zM761 224h8v1h-8zM771 224h3v1h-3zM769 225h6v1h-6zM771 226h3v1h-3zM772 227h1v1h-1z"/>
<rect x="70" y="8" width="126" height="72" fill="#fff"/>
<rect x="75" y="18" width="26" height="1" fill="#0000ff"/>
<text x="105" y="22.5" letter-spacing="0.23">Freistil</text>
<rect x="75" y="31" width="26" height="1" fill="#ff0000"/>
<text x="105" y="35.5">Brust</text>
<rect x="75" y="44" width="26" height="1" fill="#b6992f"/>
<text x="105" y="48.5" letter-spacing="0.24">Rücken</text>
<rect x="75" y="57" width="26" height="1" fill="#00ff00"/>
<text x="105" y="61.5">Schmetterling</text>
<rect x="75" y="70" width="26" height="1" fill="#000000"/>
<text x="105" y="74.5" letter-spacing="-0.17">Lagen</text>
<g>
<text class="t" x="33" y="23" text-anchor="end">4:10</text>
<text class="t" x="33" y="51" text-anchor="end">3:55</text>
<text class="t" x="33" y="80" text-anchor="end">3:40</text>
<text class="t" x="33" y="108" text-anchor="end">3:25</text>
<text class="t" x="33" y="136" text-anchor="end">3:10</text>
<text class="t" x="33" y="165" text-anchor="end">2:55</text>
<text class="t" x="33" y="193" text-anchor="end">2:40</text>
<text class="t" x="33" y="222" text-anchor="end">2:25</text>
<text class="t" x="33" y="250" text-anchor="end">2:10</text>
<text class="t" x="33" y="278" text-anchor="end">1:55</text>
<text class="t" x="33" y="307" text-anchor="end">1:40</text>
<text class="t" x="33" y="335" text-anchor="end">1:25</text>
<text class="t" x="33" y="363" text-anchor="end">1:10</text>
<text class="t" x="33" y="392" text-anchor="end">0:55</text>
<text class="t" x="33" y="420" text-anchor="end">0:40</text>
<text class="t" x="33" y="449" text-anchor="end">0:25</text>
<text class="t" transform="translate(46.85 458.4) rotate(-45)" text-anchor="end">10/2021</text>
<text class="t" transform="translate(85.85 458.4) rotate(-45)" text-anchor="end">12/2021</text>
<text class="t" transform="translate(124.85 458.4) rotate(-45)" text-anchor="end">02/2022</text>
<text class="t" transform="translate(164.85 458.4) rotate(-45)" text-anchor="end">04/2022</text>
<text class="t" transform="translate(203.85 458.4) rotate(-45)" text-anchor="end">06/2022</text>
<text class="t" transform="translate(243.85 458.4) rotate(-45)" text-anchor="end">08/2022</text>
<text class="t" transform="translate(282.85 458.4) rotate(-45)" text-anchor="end">10/2022</text>
<text class="t" transform="translate(322.85 458.4) rotate(-45)" text-anchor="end">12/2022</text>
<text class="t" transform="translate(361.85 458.4) rotate(-45)" text-anchor="end">02/2023</text>
<text class="t" transform="translate(401.85 458.4) rotate(-45)" text-anchor="end">04/2023</text>
<text class="t" transform="translate(440.85 458.4) rotate(-45)" text-anchor="end">06/2023</text>
<text class="t" transform="translate(480.85 458.4) rotate(-45)" text-anchor="end">08/2023</text>
<text class="t" transform="translate(519.85 458.4) rotate(-45)" text-anchor="end">10/2023</text>
<text class="t" transform="translate(559.85 458.4) rotate(-45)" text-anchor="end">12/2023</text>
<text class="t" transform="translate(598.85 458.4) rotate(-45)" text-anchor="end">02/2024</text>
<text class="t" transform="translate(638.85 458.4) rotate(-45)" text-anchor="end">04/2024</text>
<text class="t" transform="translate(677.85 458.4) rotate(-45)" text-anchor="end">06/2024</text>
<text class="t" transform="translate(717.85 458.4) rotate(-45)" text-anchor="end">08/2024</text>
<text class="t" transform="translate(756.85 458.4) rotate(-45)" text-anchor="end">10/2024</text>
<text class="t" transform="translate(796.85 458.4) rotate(-45)" text-anchor="end">12/2024</text>
</g>
</svg>
</body></html>
